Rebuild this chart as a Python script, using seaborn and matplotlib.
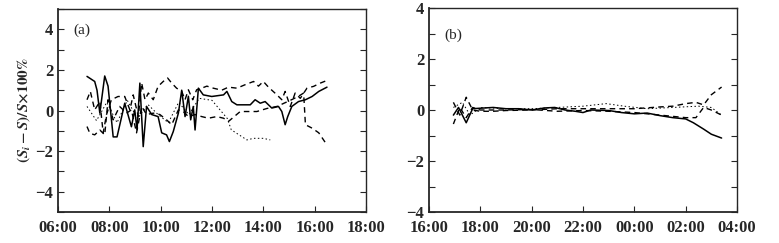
import matplotlib
matplotlib.use('Agg')
import matplotlib.pyplot as plt
import seaborn as sns
from matplotlib.ticker import MultipleLocator, FuncFormatter

# ---- panel (a): daytime, hours ----
a_solid_t = [7.13, 7.43, 7.52, 7.63, 7.82, 7.95, 8.15, 8.3, 8.6, 8.86, 8.99, 9.08, 9.19, 9.32, 9.45,
             9.65, 9.9, 10.04, 10.23, 10.34, 10.49, 10.69, 10.82, 10.95, 11.08, 11.17, 11.27, 11.34,
             11.47, 11.66, 11.99, 12.45, 12.58, 12.77, 12.97, 13.49, 13.68, 13.88, 14.07, 14.33,
             14.59, 14.72, 14.85, 14.95, 15.11, 15.37, 15.64, 15.9, 16.16, 16.48]
a_solid_v = [1.68, 1.43, 1.0, -0.13, 1.7, 1.2, -1.3, -1.3, 0.36, -0.8, 0.03, -0.95, 1.35, -1.78, 0.2,
             -0.2, -0.3, -1.1, -1.2, -1.53, -1.04, -0.13, 1.0, -0.3, 0.7, -0.46, 0.2, -0.96,
             1.1, 0.77, 0.69, 0.77, 0.94, 0.44, 0.28, 0.28, 0.53, 0.36, 0.44, 0.12,
             0.2, -0.05, -0.7, -0.3, 0.2, 0.44, 0.53, 0.69, 0.94, 1.15]

a_dash1_t = [7.13, 7.26, 7.43, 7.63, 7.76, 7.89, 8.08, 8.34, 8.6, 8.8, 8.93, 9.13, 9.26, 9.39, 9.52,
             9.71, 9.9, 10.1, 10.27, 10.43, 10.62, 10.82, 10.95, 11.08, 11.25, 11.4, 11.6, 11.8,
             12.05, 12.38, 12.64, 12.97, 13.29, 13.62, 13.81, 14.0, 14.2, 14.53, 14.72, 14.85,
             15.05, 15.24, 15.44, 15.7, 15.96, 16.22, 16.48]
a_dash1_v = [0.53, 0.94, 0.03, 0.44, -1.1, -0.2, 0.53, 0.69, 0.69, 0.03, 0.77, -0.3, 1.35, 0.53, 0.86,
             0.53, 1.19, 1.43, 1.6, 1.35, 1.1, 0.94, 0.53, 1.02, 0.53, 1.02, 1.1, 1.2,
             1.1, 1.0, 1.15, 1.1, 1.27, 1.43, 1.2, 1.43, 1.15, 0.77, 0.53, 0.94,
             0.2, 0.86, 0.6, 1.1, 1.19, 1.35, 1.48]

a_dash2_t = [7.13, 7.24, 7.43, 7.63, 7.82, 7.95, 8.15, 8.4, 8.67, 8.86, 9.06, 9.26, 9.45, 9.71, 9.97,
             10.23, 10.43, 10.69, 10.88, 11.08, 11.34, 11.6, 11.86, 12.18, 12.45, 12.64, 13.1,
             13.75, 14.14, 14.53, 15.05, 15.37, 15.57, 15.64, 15.9, 16.16, 16.48]
a_dash2_v = [-0.79, -1.12, -1.2, -0.96, -1.2, 0.53, -0.46, 0.2, -0.13, 0.03, -1.1, 0.2, -0.2, -0.13, -0.2,
             -0.46, -0.7, 0.03, -0.05, -0.3, -0.2, -0.3, -0.38, -0.3, -0.38, -0.54, -0.05,
             -0.05, 0.1, 0.2, 0.5, 0.7, 0.86, -0.7, -0.87, -1.1, -1.7]

a_dot_t = [7.13, 7.5, 7.9, 8.3, 8.7, 9.1, 9.5, 9.9, 10.3, 10.7, 11.1, 11.5, 12.0, 12.6, 12.75, 13.36,
           13.62, 14.0, 14.27]
a_dot_v = [0.2, -0.5, 0.4, -0.6, 0.5, -0.4, 0.3, -0.2, -0.6, 0.4, -0.2, 0.6, 0.5, -0.4, -0.95, -1.45,
           -1.37, -1.37, -1.45]

# ---- panel (b): night, hours (24+ = next day) ----
b_solid_t = [16.95, 17.15, 17.45, 17.7, 18.0, 18.5, 19.0, 19.5, 20.0, 20.5, 20.9, 21.3, 21.7, 22.0,
             22.3, 23.0, 23.5, 24.0, 24.5, 25.0, 25.5, 26.0, 26.3, 26.7, 27.0, 27.4]
b_solid_v = [-0.2, 0.1, -0.5, 0.05, 0.07, 0.1, 0.05, 0.05, 0.0, 0.08, 0.1, 0.0, -0.05, -0.1,
             0.0, -0.02, -0.1, -0.15, -0.12, -0.22, -0.3, -0.35, -0.5, -0.75, -0.95, -1.1]

b_dash1_t = [16.95, 17.2, 17.45, 17.7, 18.0, 18.5, 19.0, 20.0, 21.0, 22.0, 22.5, 23.0, 24.0, 25.0,
             25.5, 26.0, 26.4, 26.7, 27.0, 27.4]
b_dash1_v = [0.3, -0.2, 0.5, 0.0, -0.05, -0.05, -0.02, 0.0, 0.05, 0.05, 0.05, 0.05, 0.05, 0.12,
             0.15, 0.25, 0.3, 0.2, 0.6, 0.9]

b_dash2_t = [16.95, 17.2, 17.45, 17.7, 18.0, 19.0, 20.0, 21.0, 22.0, 23.0, 24.0, 25.0, 25.5, 26.0,
             26.4, 26.7, 27.0, 27.4]
b_dash2_v = [-0.55, 0.1, -0.3, 0.1, 0.0, 0.0, 0.02, -0.05, -0.02, -0.05, -0.1, -0.2, -0.25, -0.3,
             -0.3, 0.1, 0.0, -0.2]

b_dot_t = [16.95, 17.3, 17.6, 18.0, 19.0, 20.0, 21.0, 22.0, 22.9, 23.6, 24.5, 25.5, 26.5, 27.0, 27.4]
b_dot_v = [0.1, 0.3, -0.2, 0.1, 0.05, 0.05, 0.1, 0.15, 0.25, 0.15, 0.05, 0.1, 0.15, 0.1, -0.2]

a_ticks = [6, 8, 10, 12, 14, 16, 18]
b_ticks = [16, 18, 20, 22, 24, 26, 28]

sns.set_style('ticks')
plt.rcParams['font.family'] = ['Liberation Serif', 'DejaVu Serif']
plt.rcParams['font.weight'] = 'bold'
plt.rcParams['mathtext.fontset'] = 'stix'

fig = plt.figure(figsize=(7.79, 2.43), dpi=100)
ax_a = fig.add_axes([58 / 779, 1 - 212 / 243, (366 - 58) / 779, (212 - 9) / 243])
ax_b = fig.add_axes([429 / 779, 1 - 212 / 243, (737 - 429) / 779, (212 - 8) / 243])

dash = (0, (4, 3))
dot = (0, (1.5, 2.5))
series_a = [(a_solid_t, a_solid_v, '-', 1.1), (a_dash1_t, a_dash1_v, dash, 1.0),
            (a_dash2_t, a_dash2_v, dash, 1.0), (a_dot_t, a_dot_v, dot, 0.7)]
series_b = [(b_solid_t, b_solid_v, '-', 1.1), (b_dash1_t, b_dash1_v, dash, 1.0),
            (b_dash2_t, b_dash2_v, dash, 1.0), (b_dot_t, b_dot_v, dot, 0.7)]

for ax, series in [(ax_a, series_a), (ax_b, series_b)]:
    for t, v, ls, lw in series:
        sns.lineplot(x=t, y=v, ax=ax, color='black', linewidth=lw, linestyle=ls)

hour_fmt = FuncFormatter(lambda x, pos: '%02d:00' % (int(round(x)) % 24))

ax_a.set_xlim(6, 18)
ax_a.set_ylim(-5, 5)
ax_a.set_xticks(a_ticks)
ax_a.set_yticks([-4, -2, 0, 2, 4])
ax_a.set_ylabel(r'$\mathbf{(}\boldsymbol{S_i-S}\mathbf{)/}\boldsymbol{S}\mathbf{\times100\%}$',
                fontsize=11, labelpad=2)
ax_a.text(0.05, 0.88, '(a)', transform=ax_a.transAxes, fontsize=11, fontweight='normal')

ax_b.set_xlim(16, 28)
ax_b.set_ylim(-4, 4)
ax_b.set_xticks(b_ticks)
ax_b.set_yticks([-4, -2, 0, 2, 4])
ax_b.text(0.05, 0.85, '(b)', transform=ax_b.transAxes, fontsize=11, fontweight='normal')

for ax in (ax_a, ax_b):
    ax.xaxis.set_major_formatter(hour_fmt)
    ax.yaxis.set_minor_locator(MultipleLocator(1))
    ax.tick_params(axis='both', which='both', direction='in', labelsize=12, length=4, width=0.8)
    ax.tick_params(axis='y', which='both', right=True)
    ax.tick_params(axis='x', pad=6)
    for name, sp in ax.spines.items():
        sp.set_visible(True)
        sp.set_linewidth(1.3 if name in ('left', 'bottom') else 1.0)
    ax.set_xlabel('')

fig.savefig('out.png', dpi=100)
